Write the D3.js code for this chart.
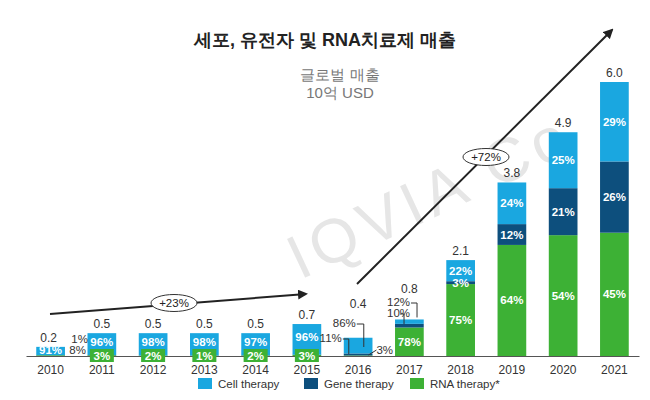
<!DOCTYPE html>
<html><head><meta charset="utf-8">
<script src="https://cdn.jsdelivr.net/npm/d3@7"></script>
<style>body{margin:0;background:#fff}text{font-family:Arial,"Liberation Sans",sans-serif}</style>
</head><body><svg></svg>
<script>
// 매출 (10억 USD) 및 구성비 [cell, gene, rna]
let sales = [
  {year: "2010", total: 0.2, share: [91, 1, 8]},
  {year: "2011", total: 0.5, share: [96, 1, 3]},
  {year: "2012", total: 0.5, share: [98, 0, 2]},
  {year: "2013", total: 0.5, share: [98, 1, 1]},
  {year: "2014", total: 0.5, share: [97, 1, 2]},
  {year: "2015", total: 0.7, share: [96, 1, 3]},
  {year: "2016", total: 0.4, share: [86, 11, 3]},
  {year: "2017", total: 0.8, share: [12, 10, 78]},
  {year: "2018", total: 2.1, share: [22, 3, 75]},
  {year: "2019", total: 3.8, share: [24, 12, 64]},
  {year: "2020", total: 4.9, share: [25, 21, 54]},
  {year: "2021", total: 6.0, share: [29, 26, 45]}
];
const colors = ["#1aa7e0", "#0d4f7d", "#3db135"];
const names = ["Cell therapy", "Gene therapy", "RNA therapy*"];
const width = 650, height = 400;
const base = 356;

let svg = d3.select("svg").attr("width", width).attr("height", height);

// watermark
svg.append("text").attr("x", 300).attr("y", 280).attr("transform", "rotate(-25,300,280)")
  .attr("font-size", 62).attr("fill", "#e6e6e6").attr("letter-spacing", 6).text("IQVIA Co");

let x = d3.scaleBand().domain(sales.map(d => d.year)).range([26, 639]).paddingInner(0.44).paddingOuter(0.2);
let y = d3.scaleLinear().domain([0, 6]).range([base, 82]);
const bw = x.bandwidth();

svg.append("text").attr("x", 325).attr("y", 46).attr("text-anchor", "middle")
  .attr("font-size", 18).attr("font-weight", "bold").attr("fill", "#222").text("세포, 유전자 및 RNA치료제 매출");
svg.append("text").attr("x", 340).attr("y", 80).attr("text-anchor", "middle")
  .attr("font-size", 15).attr("fill", "#777").text("글로벌 매출");
svg.append("text").attr("x", 340).attr("y", 98).attr("text-anchor", "middle")
  .attr("font-size", 15).attr("fill", "#777").text("10억 USD");

// stacks: rna bottom, gene, cell top
let order = [2, 1, 0];
sales.forEach(d => {
  let cum = 0;
  d.segs = order.map(i => {
    let v = d.total * d.share[i] / 100;
    let s = {i: i, y0: cum, y1: cum + v, p: d.share[i]};
    cum += v;
    return s;
  });
});

let g = svg.selectAll(".bar").data(sales).enter().append("g");
g.selectAll("rect").data(d => d.segs.map(s => Object.assign({year: d.year}, s))).enter()
  .append("rect")
  .attr("x", d => x(d.year)).attr("width", bw)
  .attr("y", d => y(d.y1)).attr("height", d => y(d.y0) - y(d.y1))
  .attr("fill", d => colors[d.i]);

// axis
svg.append("g").attr("transform", `translate(0,${base})`)
  .call(d3.axisBottom(x).tickSize(0).tickPadding(9))
  .call(a => a.select(".domain").attr("stroke", "#555"))
  .selectAll("text").attr("font-size", 12).attr("fill", "#333");

// totals
svg.selectAll(".tot").data(sales).enter().append("text")
  .attr("x", d => x(d.year) + bw / 2 - (d.year === "2010" ? 2 : 0))
  .attr("y", d => y(d.total) - (d.year === "2016" ? 30 : d.year === "2017" ? 26 : 5))
  .attr("text-anchor", "middle").attr("font-size", 12).attr("fill", "#333").text(d => d.total.toFixed(1));

// labels inside large bars
let big = sales.filter(d => +d.year >= 2018);
big.forEach(d => d.segs.forEach(s => {
  svg.append("text").attr("x", x(d.year) + bw / 2).attr("y", (y(s.y0) + y(s.y1)) / 2 + 4)
    .attr("text-anchor", "middle").attr("font-size", 11.5).attr("font-weight", "bold")
    .attr("fill", "#fff").text(s.p + "%");
}));

// small years
sales.filter(d => +d.year >= 2011 && +d.year <= 2015).forEach(d => {
  let cx = x(d.year) + bw / 2;
  svg.append("text").attr("x", cx).attr("y", y(d.total * 0.5) + 1).attr("text-anchor", "middle")
    .attr("font-size", 11.5).attr("font-weight", "bold").attr("fill", "#fff").text(d.share[0] + "%");
  svg.append("rect").attr("x", cx - 12).attr("y", base - 7).attr("width", 24).attr("height", 13).attr("fill", colors[2]);
  svg.append("text").attr("x", cx).attr("y", base + 4).attr("text-anchor", "middle")
    .attr("font-size", 11.5).attr("font-weight", "bold").attr("fill", "#fff").text(d.share[2] + "%");
});

function lbl(tx, ty, t, col, anchor, bold) {
  svg.append("text").attr("x", tx).attr("y", ty).attr("text-anchor", anchor || "middle")
    .attr("font-size", 11.5).attr("font-weight", bold ? "bold" : "normal").attr("fill", col || "#333").text(t);
}
function line(pts) {
  svg.append("path").attr("d", d3.line()(pts)).attr("fill", "none").attr("stroke", "#333").attr("stroke-width", 1);
}
// 2010
let c10 = x("2010") + bw / 2;
lbl(c10, 354, "91%", "#fff", "middle", true);
lbl(c10 + 29, 343, "1%", "#333");
lbl(c10 + 27, 354, "8%", "#333");
// 2016
let x16 = x("2016");
line([[x16 + 20, 347], [x16 + 20, 324], [x16 + 13, 324]]);
lbl(x16 + 12, 327, "86%", "#333", "end");
line([[x16 + 5, 354], [x16 + 5, 339], [x16 - 1, 339]]);
lbl(x16 - 2, 342, "11%", "#333", "end");
line([[x16 + bw - 4, 355], [x16 + bw + 4, 350]]);
lbl(x16 + bw + 4, 354, "3%", "#333", "start");
// 2017
let x17 = x("2017");
line([[x17 + 22, y(0.8) - 2], [x17 + 22, 303], [x17 + 16, 303]]);
lbl(x17 + 15, 306, "12%", "#333", "end");
line([[x17 + 9, y(0.7)], [x17 + 9, 314], [x17 + 5, 314]]);
lbl(x17 + 15, 317, "10%", "#333", "end");
lbl(x17 + bw / 2, y(0.3) + 4, "78%", "#fff", "middle", true);

// arrows
svg.append("defs").append("marker").attr("id", "ah").attr("viewBox", "0 0 10 10").attr("refX", 8).attr("refY", 5)
  .attr("markerWidth", 5).attr("markerHeight", 5).attr("orient", "auto")
  .append("path").attr("d", "M0,0L10,5L0,10z").attr("fill", "#222");
function arrow(p0, p1, lx, ly, t) {
  svg.append("line").attr("x1", p0[0]).attr("y1", p0[1]).attr("x2", p1[0]).attr("y2", p1[1])
    .attr("stroke", "#222").attr("stroke-width", 2).attr("marker-end", "url(#ah)");
  svg.append("ellipse").attr("cx", lx).attr("cy", ly).attr("rx", 23).attr("ry", 8.5).attr("fill", "#fff").attr("stroke", "#333");
  lbl(lx, ly + 4, t, "#222");
}
arrow([50, 314], [306, 294], 174, 303, "+23%");
arrow([357, 284], [612, 30], 486, 157, "+72%");

// legend
let lg = svg.selectAll(".lg").data(names).enter().append("g")
  .attr("transform", (d, i) => `translate(${198 + i * 106},378)`);
lg.append("rect").attr("width", 14).attr("height", 11).attr("fill", (d, i) => colors[i]);
lg.append("text").attr("x", 20).attr("y", 10).attr("font-size", 11.5).attr("fill", "#333").text(d => d);
</script></body></html>
